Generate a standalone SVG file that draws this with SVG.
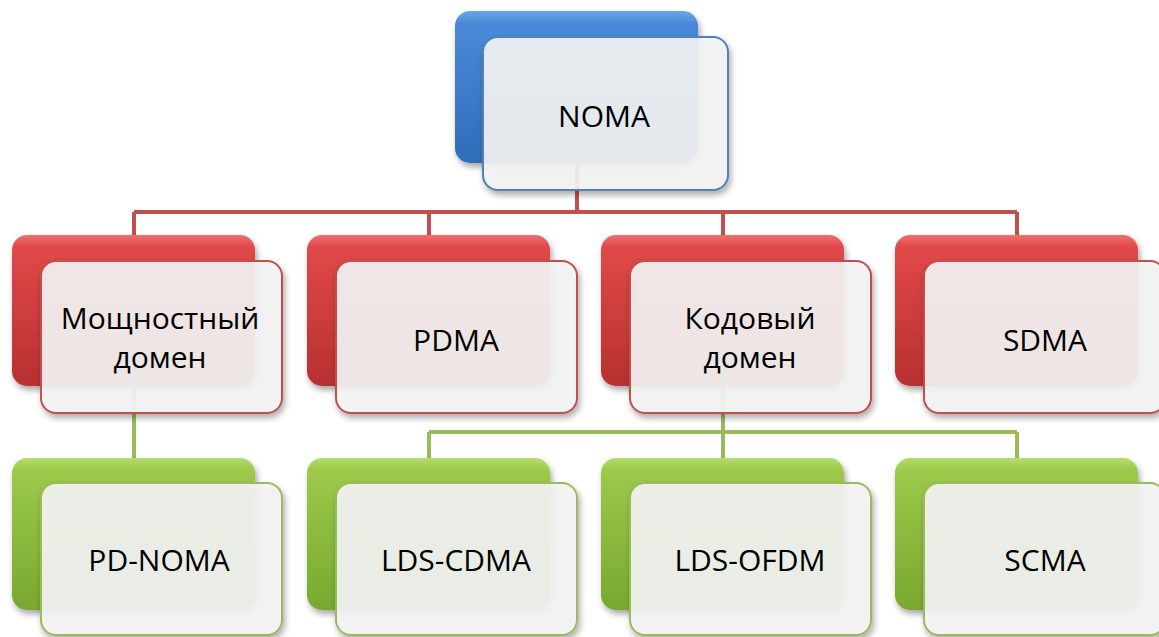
<svg xmlns="http://www.w3.org/2000/svg" width="1159" height="637" viewBox="0 0 1159 637">
<defs>
<linearGradient id="gBlue" x1="0" y1="0" x2="0" y2="1"><stop offset="0" stop-color="#6aa6e6"/><stop offset="0.08" stop-color="#4a8ad8"/><stop offset="1" stop-color="#2f6cb8"/></linearGradient>
<linearGradient id="gRed" x1="0" y1="0" x2="0" y2="1"><stop offset="0" stop-color="#f07070"/><stop offset="0.08" stop-color="#e04848"/><stop offset="1" stop-color="#b83030"/></linearGradient>
<linearGradient id="gGreen" x1="0" y1="0" x2="0" y2="1"><stop offset="0" stop-color="#b6dc6a"/><stop offset="0.08" stop-color="#9cc94a"/><stop offset="1" stop-color="#78a830"/></linearGradient>
<filter id="sh" x="-10%" y="-10%" width="125%" height="130%"><feDropShadow dx="2" dy="4" stdDeviation="3" flood-color="#000" flood-opacity="0.35"/></filter>
</defs>
<style>
.back{filter:url(#sh)}
.front{fill:#f5f5f5;fill-opacity:0.9;stroke-width:2;filter:url(#sh)}
.fb{stroke:#4f81bd}.fr{stroke:#c0504d}.fg{stroke:#9bbb59}
.red{fill:none;stroke:#c0504d;stroke-width:4}
.grn{fill:none;stroke:#9bbb59;stroke-width:4}
text{font-family:"Open Sans","Noto Sans","Liberation Sans",sans-serif;font-size:30px;fill:#000;text-anchor:middle}
</style>
<g id="connectors">
<path class="red" d="M577,163V212M134,212H1017M134,212V235M429,212V235M723,212V235M1017,212V235"/>
<path class="grn" d="M134,385V458M723,385V432M429,432H1017M429,432V458M723,432V458M1017,432V458"/>
</g>
<g id="n-noma">
<rect class="back" x="455" y="11" width="243" height="152" rx="15" fill="url(#gBlue)"/>
<rect class="front fb" x="483" y="37" width="245" height="153" rx="15"/>
<text x="604" y="127">NOMA</text>
</g>
<g id="n-power">
<rect class="back" x="12" y="235" width="243" height="151" rx="15" fill="url(#gRed)"/>
<rect class="front fr" x="41" y="261" width="241" height="152" rx="15"/>
<text x="160" y="329">Мощностный</text>
<text x="160" y="368">домен</text>
</g>
<g id="n-pdma">
<rect class="back" x="307" y="235" width="243" height="151" rx="15" fill="url(#gRed)"/>
<rect class="front fr" x="336" y="261" width="241" height="152" rx="15"/>
<text x="456" y="351">PDMA</text>
</g>
<g id="n-code">
<rect class="back" x="601" y="235" width="243" height="151" rx="15" fill="url(#gRed)"/>
<rect class="front fr" x="630" y="261" width="241" height="152" rx="15"/>
<text x="750" y="329">Кодовый</text>
<text x="750" y="368">домен</text>
</g>
<g id="n-sdma">
<rect class="back" x="895" y="235" width="243" height="151" rx="15" fill="url(#gRed)"/>
<rect class="front fr" x="924" y="261" width="241" height="152" rx="15"/>
<text x="1045" y="351">SDMA</text>
</g>
<g id="n-pdnoma">
<rect class="back" x="12" y="458" width="243" height="152" rx="15" fill="url(#gGreen)"/>
<rect class="front fg" x="41" y="483" width="241" height="152" rx="15"/>
<text x="159" y="571">PD-NOMA</text>
</g>
<g id="n-ldscdma">
<rect class="back" x="307" y="458" width="243" height="152" rx="15" fill="url(#gGreen)"/>
<rect class="front fg" x="336" y="483" width="241" height="152" rx="15"/>
<text x="456" y="571">LDS-CDMA</text>
</g>
<g id="n-ldsofdm">
<rect class="back" x="601" y="458" width="243" height="152" rx="15" fill="url(#gGreen)"/>
<rect class="front fg" x="630" y="483" width="241" height="152" rx="15"/>
<text x="750" y="571">LDS-OFDM</text>
</g>
<g id="n-scma">
<rect class="back" x="895" y="458" width="243" height="152" rx="15" fill="url(#gGreen)"/>
<rect class="front fg" x="924" y="483" width="241" height="152" rx="15"/>
<text x="1045" y="571">SCMA</text>
</g>
</svg>
